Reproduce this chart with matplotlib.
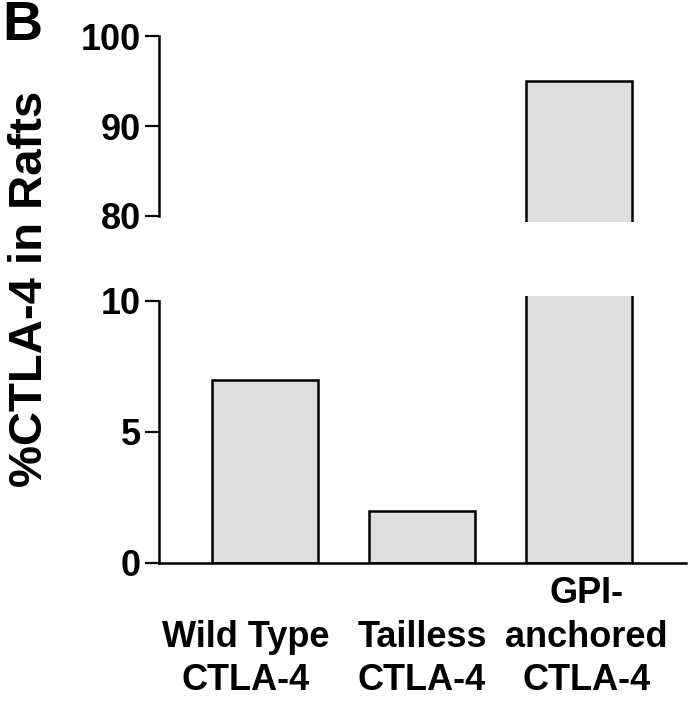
import matplotlib
matplotlib.use('Agg')
import matplotlib.pyplot as plt
from matplotlib.transforms import ScaledTranslation

# % of each CTLA-4 construct found in lipid rafts
constructs = ['Wild Type\nCTLA-4', 'Tailless\nCTLA-4', 'GPI-\nanchored\nCTLA-4']
pct_in_rafts = [7, 2, 95]
upper_ticks = [80, 90, 100]
lower_ticks = [0, 5, 10]

plt.rcParams['font.family'] = ['Liberation Sans', 'DejaVu Sans']
plt.rcParams['font.weight'] = 'bold'

fig = plt.figure(figsize=(6.9, 7.19), dpi=100)
ax_top = fig.add_axes([0.2304, 0.6912, 0.7638, 0.2587])
ax_bot = fig.add_axes([0.2304, 0.2170, 0.7638, 0.3713])

x = list(range(len(constructs)))
for ax in (ax_top, ax_bot):
    ax.bar(x, pct_in_rafts, width=0.675, color='#dedede',
           edgecolor='black', linewidth=1.8)
    ax.set_xlim(-0.675, 2.68)
    ax.spines['top'].set_visible(False)
    ax.spines['right'].set_visible(False)
    ax.spines['left'].set_linewidth(1.8)
    ax.spines['bottom'].set_linewidth(1.8)
    ax.tick_params(axis='y', direction='out', length=10, width=1.6,
                   labelsize=26, pad=3)
    ax.tick_params(axis='y', which='minor', direction='in', length=8, width=1.6)

# upper part of the broken axis
ax_top.set_ylim(79.33, 100)
ax_top.set_yticks(upper_ticks)
ax_top.set_yticks([upper_ticks[0]], minor=True)
ax_top.spines['left'].set_bounds(upper_ticks[0], upper_ticks[-1])
ax_top.spines['bottom'].set_visible(False)
ax_top.set_xticks([])

# lower part
ax_bot.set_ylim(0, 10.19)
ax_bot.set_yticks(lower_ticks)
ax_bot.set_yticks([lower_ticks[-1]], minor=True)
ax_bot.spines['left'].set_bounds(lower_ticks[0], lower_ticks[-1])
ax_bot.set_xticks(x, constructs)
ax_bot.tick_params(axis='x', length=0, pad=97, labelsize=26)
# labels in the original sit a little off the bar centres, bottom-aligned
nudges = [-19, 0, 7]
for lbl, dx in zip(ax_bot.get_xticklabels(), nudges):
    lbl.set_verticalalignment('bottom')
    lbl.set_linespacing(1.3)
    lbl.set_transform(lbl.get_transform()
                      + ScaledTranslation(dx / 100, 0, fig.dpi_scale_trans))

fig.text(0.043, 1 - 289 / 719, '%CTLA-4 in Rafts', rotation=90,
         ha='center', va='center', fontsize=34, fontweight='bold')
fig.text(0.003, 1.0, 'B', ha='left', va='top',
         fontsize=40, fontweight='bold')

fig.savefig('out.png', dpi=100)
